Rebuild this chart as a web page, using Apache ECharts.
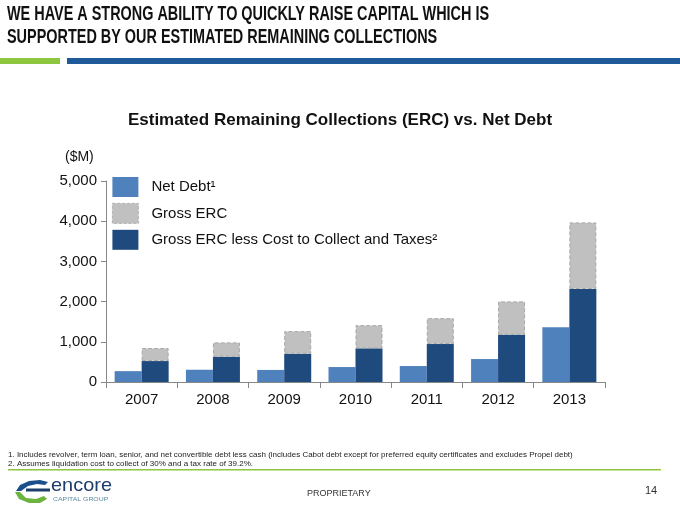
<!DOCTYPE html>
<html><head><meta charset="utf-8">
<script src="https://cdn.jsdelivr.net/npm/echarts@6/dist/echarts.min.js"></script>
<style>html,body{margin:0;padding:0;background:#fff}#c{width:680px;height:510px}</style>
</head><body><div id="c"></div>
<script>
const categories = ['2007','2008','2009','2010','2011','2012','2013'];
const netDebt = [270, 305, 300, 372, 397, 571, 1365];
const grossErcLessCost = [521, 628, 702, 836, 943, 1174, 2315];
const grossErc = [844, 985, 1266, 1414, 1588, 2005, 3970];
const yTicks = [0, 1000, 2000, 3000, 4000, 5000];
const ercIncrement = grossErc.map((v, i) => v - grossErcLessCost[i]);

const chart = echarts.init(document.getElementById('c'));
const F = 'Liberation Sans, Arial, sans-serif';
function txt(x, y, text, font, fill, sx) {
  const o = { type: 'text', x: x, y: y, style: { text: text, font: font, fill: fill, textVerticalAlign: 'top' } };
  if (sx) { o.scaleX = sx; }
  return o;
}
chart.setOption({
  animation: false,
  textStyle: { fontFamily: F },
  title: {
    text: 'Estimated Remaining Collections (ERC) vs. Net Debt',
    left: 'center', top: 107,
    textStyle: { fontSize: 17, fontWeight: 'bold', color: '#111', fontFamily: F }
  },
  legend: {
    orient: 'vertical', left: 112, top: 177, padding: 0,
    itemWidth: 26, itemHeight: 20, itemGap: 6,
    icon: 'rect',
    textStyle: { fontSize: 15, color: '#111', fontFamily: F, padding: [2,0,0,8] },
    data: [
      { name: 'Net Debt¹' },
      { name: 'Gross ERC', itemStyle: { color: '#c0c0c0', borderColor: '#a8a8a8', borderWidth: 0.8, borderType: 'dashed' } },
      { name: 'Gross ERC less Cost to Collect and Taxes²' }
    ],
    selectedMode: false
  },
  grid: { left: 106, right: 75, top: 181, bottom: 128 },
  xAxis: {
    type: 'category', data: categories,
    axisLine: { lineStyle: { color: '#888' } },
    axisTick: { show: true, interval: 0, length: 6, lineStyle: { color: '#888' } },
    axisLabel: { fontSize: 15, color: '#111', margin: 10, fontFamily: F }
  },
  yAxis: {
    type: 'value', min: 0, max: 5000, interval: 1000,
    axisLine: { show: true, lineStyle: { color: '#888' } },
    axisTick: { show: true, length: 5, lineStyle: { color: '#888' } },
    splitLine: { show: false },
    axisLabel: { fontSize: 15, color: '#111', margin: 9, fontFamily: F,
      formatter: v => yTicks.includes(v) ? v.toLocaleString('en-US') : '' }
  },
  graphic: [
    txt(7, 5, 'WE HAVE A STRONG ABILITY TO QUICKLY RAISE CAPITAL WHICH IS', 'bold 19.5px ' + F, '#111', 0.74),
    txt(7, 28, 'SUPPORTED BY OUR ESTIMATED REMAINING COLLECTIONS', 'bold 19.5px ' + F, '#111', 0.74),
    { type: 'rect', shape: { x: 0, y: 58, width: 60, height: 6 }, style: { fill: '#8dc63f' } },
    { type: 'rect', shape: { x: 67, y: 58, width: 613, height: 6 }, style: { fill: '#1f5a9a' } },
    txt(65, 150, '($M)', '14px ' + F, '#111'),
    txt(8, 451, '1. Includes revolver, term loan, senior, and net convertible debt less cash (includes Cabot debt except for preferred equity certificates and excludes Propel debt)', '8px ' + F, '#222'),
    txt(8, 460, '2. Assumes liquidation cost to collect of 30% and a tax rate of 39.2%.', '8px ' + F, '#222'),
    { type: 'rect', shape: { x: 8, y: 469, width: 653, height: 1.5 }, style: { fill: '#8dc63f' } },
    txt(307, 489, 'PROPRIETARY', '9px ' + F, '#333'),
    txt(645, 485, '14', '11px ' + F, '#333'),
    { type: 'polygon', shape: { points: [[16,491],[20,485],[29,481],[40,480],[48,482],[45,485],[37,484],[28,486],[21,491]] }, style: { fill: '#1d4f8a' } },
    { type: 'polygon', shape: { points: [[15,492],[19,499],[29,503],[40,503],[47,499],[44,496],[36,499],[26,498],[20,492]] }, style: { fill: '#6cb33f' } },
    { type: 'rect', shape: { x: 26, y: 488.5, width: 24, height: 3 }, style: { fill: '#1d3d6b' } },
    txt(51, 476, 'encore', '19px ' + F, '#1d3d6b', 1.05),
    txt(53, 496, 'CAPITAL GROUP', '5.5px ' + F, '#5a8aa0', 1.25)
  ],
  series: [
    { name: 'Net Debt¹', type: 'bar', data: netDebt, barWidth: 27, barGap: '0%',
      itemStyle: { color: '#4f81bd' } },
    { name: 'Gross ERC less Cost to Collect and Taxes²', type: 'bar', stack: 'erc', data: grossErcLessCost, barWidth: 27,
      itemStyle: { color: '#1f4a7e' } },
    { name: 'Gross ERC', type: 'bar', stack: 'erc', data: ercIncrement, barWidth: 27,
      itemStyle: { color: '#c0c0c0', borderColor: '#a8a8a8', borderWidth: 1, borderType: 'dashed' } }
  ]
});
</script></body></html>
